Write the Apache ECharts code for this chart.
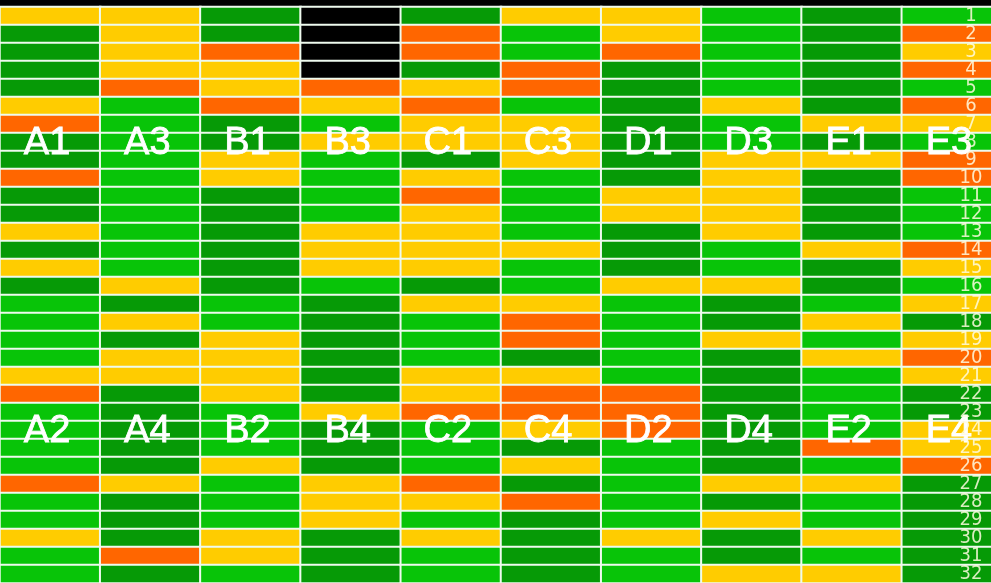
<!DOCTYPE html>
<html>
<head>
<meta charset="utf-8">
<script src="https://cdn.jsdelivr.net/npm/echarts@6/dist/echarts.min.js"></script>
<style>
html,body{margin:0;padding:0;background:#000;overflow:hidden;}
#chart{width:991px;height:583px;}
</style>
</head>
<body>
<div id="chart"></div>
<script>
// Columns (each column holds two plates: upper label / lower label)
const columns = ['A1/A2','A3/A4','B1/B2','B3/B4','C1/C2','C3/C4','D1/D2','D3/D4','E1/E2','E3/E4'];
const topLabels = ['A1','A3','B1','B3','C1','C3','D1','D3','E1','E3'];
const bottomLabels = ['A2','A4','B2','B4','C2','C4','D2','D4','E2','E4'];
const rowLabels = ['1','2','3','4','5','6','7','8','9','10','11','12','13','14','15','16',
                   '17','18','19','20','21','22','23','24','25','26','27','28','29','30','31','32'];
// Level codes: 0 = dark green, 1 = green, 2 = yellow, 3 = orange, 4 = no data (black)
const levels = ['dark green','green','yellow','orange','no data'];

const colA1A2 = [2,0,0,0,0,2,3,0,0,3,0,0,2,0,2,0,1,1,1,1,2,3,1,1,1,1,3,1,1,2,1,1];
const colA3A4 = [2,2,2,2,3,1,1,1,1,1,1,1,1,1,1,2,0,2,0,2,2,0,0,0,0,0,2,0,0,0,3,0];
const colB1B2 = [0,0,3,2,2,3,0,0,2,2,0,0,0,0,0,0,1,1,2,2,2,2,1,1,1,2,1,1,1,2,2,1];
const colB3B4 = [4,4,4,4,3,2,1,2,1,1,1,1,2,2,2,1,0,0,0,0,0,0,2,0,0,0,2,2,2,0,0,0];
const colC1C2 = [0,3,3,0,2,3,2,2,0,2,3,2,2,2,2,0,2,1,1,1,2,2,3,1,1,1,3,2,1,2,1,1];
const colC3C4 = [2,1,1,3,3,1,2,2,2,1,1,1,1,2,1,1,2,3,3,0,2,3,3,2,0,2,0,3,0,0,0,0];
const colD1D2 = [2,2,3,0,0,0,0,0,0,0,2,2,0,0,0,2,1,1,1,1,1,3,3,3,1,1,1,1,1,2,1,1];
const colD3D4 = [1,1,1,1,1,2,1,1,2,2,2,2,2,1,1,2,0,0,2,0,0,0,0,0,0,0,2,0,2,0,0,2];
const colE1E2 = [0,0,0,0,0,0,2,0,2,0,0,0,0,2,0,0,1,2,1,2,1,1,1,1,3,1,2,1,1,2,1,2];
const colE3E4 = [1,3,2,3,1,3,2,1,3,3,1,1,1,3,2,1,2,0,2,3,2,0,0,2,2,3,0,0,0,0,0,0];

const columnValues = [colA1A2,colA3A4,colB1B2,colB3B4,colC1C2,colC3C4,colD1D2,colD3D4,colE1E2,colE3E4];

const levelColors = ['#069a06','#08c408','#ffcc00','#ff6600','#000000'];

const heatData = [];
columnValues.forEach((vals, c) => {
  vals.forEach((v, r) => heatData.push([c, r, v]));
});

const TOP_ROW = 7;     // index of row '8'
const BOTTOM_ROW = 23; // index of row '24'
const labelData = [];
topLabels.forEach((t, c) => labelData.push([c, TOP_ROW, t]));
bottomLabels.forEach((t, c) => labelData.push([c, BOTTOM_ROW, t]));

const chart = echarts.init(document.getElementById('chart'), null, {renderer: 'canvas'});
chart.setOption({
  backgroundColor: '#000',
  animation: false,
  grid: {left: 0, top: 7, right: -11, bottom: 0, containLabel: false, outerBoundsMode: 'none'},
  xAxis: {
    type: 'category', data: columns, show: false
  },
  yAxis: {
    type: 'category', data: rowLabels, inverse: true, position: 'right', z: 10,
    axisLine: {show: false}, axisTick: {show: false}, splitLine: {show: false},
    axisLabel: {
      inside: true, margin: 31, align: 'center', interval: 0,
      color: 'rgba(255,252,225,0.85)', fontSize: 20,
      fontWeight: 'normal condensed',
      fontFamily: '"DejaVu Sans Condensed","Liberation Sans Narrow","Liberation Sans",sans-serif',
      padding: [0, 0, 3, 0]
    }
  },
  visualMap: {
    type: 'piecewise', show: false, dimension: 2, seriesIndex: 0,
    pieces: levels.map((name, i) => ({value: i, label: name, color: levelColors[i]}))
  },
  series: [
    {
      type: 'heatmap',
      data: heatData,
      itemStyle: {borderColor: '#eefaee', borderWidth: 2},
      emphasis: {disabled: true}
    },
    {
      type: 'scatter',
      data: labelData,
      symbolSize: 1,
      itemStyle: {color: 'rgba(0,0,0,0)', opacity: 1},
      z: 5,
      emphasis: {disabled: true},
      label: {
        show: true, position: 'inside',
        formatter: p => p.data[2],
        color: '#ffffff', fontSize: 38, fontWeight: 'normal',
        fontFamily: '"Liberation Sans",Arial,sans-serif',
        textBorderColor: '#ffffff', textBorderWidth: 0.8,
        offset: [-3, 2]
      }
    }
  ]
});
</script>
</body>
</html>
